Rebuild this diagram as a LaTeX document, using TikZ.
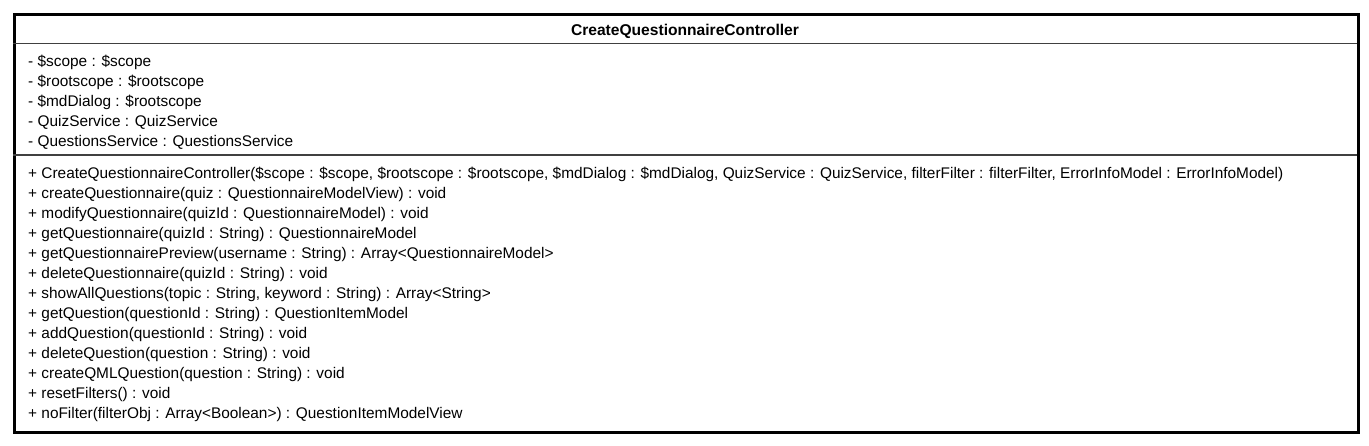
\documentclass[tikz,border=0pt]{standalone}
\usepackage{fontspec}
\setmainfont{Liberation Sans}
\begin{document}
\begin{tikzpicture}[x=1pt,y=-1pt,
  txt/.style={anchor=base west,inner sep=0pt,font=\fontsize{15.4}{18}\selectfont},
  ttl/.style={anchor=base,inner sep=0pt,font=\fontsize{15.6}{18}\selectfont\bfseries},
  frame/.style={draw=black,line width=3pt},
  sep/.style={draw=black!75,line width=1.1pt}]
\useasboundingbox (0,0) rectangle (1369,445);
\node[frame,fill=white,minimum width=1344pt,minimum height=418pt,anchor=north west,inner sep=0pt] (box) at (13,13) {};
\coordinate (s1l) at (13,43.5); \coordinate (s1r) at (1357,43.5);
\coordinate (s2l) at (13,155); \coordinate (s2r) at (1357,155);
\draw[sep] (s1l) -- (s1r);
\draw[sep] (s2l) -- (s2r);
\node[ttl] (title) at (685,35.5) {CreateQuestionnaireController};
\node[txt] (a1) at (28,66) {- \$scope : \$scope};
\node[txt] (a2) at (28,86) {- \$rootscope : \$rootscope};
\node[txt] (a3) at (28,106) {- \$mdDialog : \$rootscope};
\node[txt] (a4) at (28,126) {- QuizService : QuizService};
\node[txt] (a5) at (28,146) {- QuestionsService : QuestionsService};
\node[txt] (m1) at (28,178) {+ CreateQuestionnaireController(\$scope : \$scope, \$rootscope : \$rootscope, \$mdDialog : \$mdDialog, QuizService : QuizService, filterFilter : filterFilter, ErrorInfoModel : ErrorInfoModel)};
\node[txt] (m2) at (28,198) {+ createQuestionnaire(quiz : QuestionnaireModelView) : void};
\node[txt] (m3) at (28,218) {+ modifyQuestionnaire(quizId : QuestionnaireModel) : void};
\node[txt] (m4) at (28,238) {+ getQuestionnaire(quizId : String) : QuestionnaireModel};
\node[txt] (m5) at (28,258) {+ getQuestionnairePreview(username : String) : Array<QuestionnaireModel>};
\node[txt] (m6) at (28,278) {+ deleteQuestionnaire(quizId : String) : void};
\node[txt] (m7) at (28,298) {+ showAllQuestions(topic : String, keyword : String) : Array<String>};
\node[txt] (m8) at (28,318) {+ getQuestion(questionId : String) : QuestionItemModel};
\node[txt] (m9) at (28,338) {+ addQuestion(questionId : String) : void};
\node[txt] (m10) at (28,358) {+ deleteQuestion(question : String) : void};
\node[txt] (m11) at (28,378) {+ createQMLQuestion(question : String) : void};
\node[txt] (m12) at (28,398) {+ resetFilters() : void};
\node[txt] (m13) at (28,418) {+ noFilter(filterObj : Array<Boolean>) : QuestionItemModelView};
\end{tikzpicture}
\end{document}
